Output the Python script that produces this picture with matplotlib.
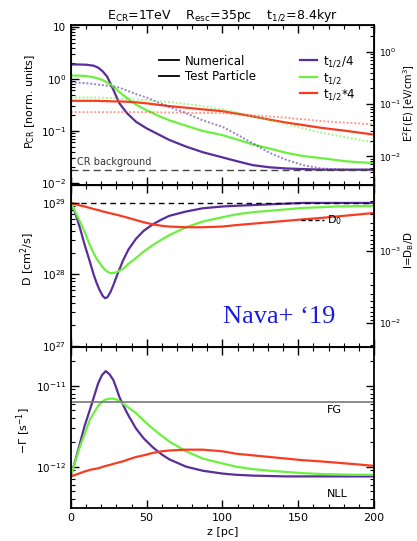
import numpy as np
import matplotlib
matplotlib.use("Agg")
import matplotlib.pyplot as plt
from matplotlib.lines import Line2D
from matplotlib.ticker import MultipleLocator, LogLocator, NullFormatter

plt.rcParams['font.family'] = ['DejaVu Sans']
plt.rcParams['mathtext.default'] = 'regular'

# ---- panel 1: CR density, numerical (solid) and test particle (dotted)
z1 = [0, 5, 10, 15, 18, 21, 24, 28, 32, 37, 43, 50, 57, 65, 76, 87, 100,
      110, 120, 131, 142, 153, 165, 182, 200]
p_quarter = [1.9, 1.9, 1.88, 1.8, 1.65, 1.4, 1.1, 0.62, 0.34, 0.22, 0.15, 0.112,
             0.088, 0.067, 0.05, 0.039, 0.031, 0.026, 0.022, 0.020, 0.019,
             0.0185, 0.018, 0.018, 0.018]
p_half = [1.16, 1.16, 1.14, 1.08, 1.02, 0.95, 0.85, 0.71, 0.56, 0.43, 0.32, 0.25,
          0.2, 0.16, 0.126, 0.1, 0.083, 0.068, 0.055, 0.046, 0.038, 0.033,
          0.03, 0.026, 0.024]
p_four = [0.38, 0.38, 0.38, 0.38, 0.38, 0.375, 0.375, 0.37, 0.37, 0.365, 0.355,
          0.34, 0.32, 0.3, 0.28, 0.26, 0.24, 0.215, 0.19, 0.165, 0.145, 0.13,
          0.115, 0.1, 0.085]
tp_quarter = [0.86, 0.85, 0.83, 0.8, 0.78, 0.76, 0.74, 0.72, 0.68, 0.6, 0.51,
              0.44, 0.36, 0.29, 0.22, 0.16, 0.12, 0.084, 0.058, 0.038, 0.028,
              0.022, 0.019, 0.018, 0.018]
tp_half = [0.44, 0.44, 0.44, 0.44, 0.44, 0.435, 0.43, 0.43, 0.42, 0.41, 0.4,
           0.39, 0.37, 0.36, 0.33, 0.3, 0.26, 0.225, 0.19, 0.16, 0.135, 0.113,
           0.093, 0.075, 0.06]
tp_four = [0.23, 0.23, 0.23, 0.23, 0.23, 0.23, 0.23, 0.23, 0.23, 0.23, 0.23,
           0.23, 0.228, 0.226, 0.224, 0.222, 0.22, 0.21, 0.2, 0.19, 0.18,
           0.168, 0.155, 0.144, 0.134]
cr_background = 0.018

# ---- panel 2: diffusion coefficient, log10(D)
z2 = [0, 3, 6, 9, 12.5, 15, 17, 19, 21, 22.5, 24, 26, 28, 31, 34.5, 38, 43, 48,
      54, 60, 65, 76, 87, 100, 109, 120, 131, 142, 153, 165, 175, 188, 200]
logD_quarter = [29.0, 28.85, 28.65, 28.42, 28.18, 28.0, 27.88, 27.78, 27.7,
                27.67, 27.68, 27.75, 27.85, 28.02, 28.2, 28.35, 28.5, 28.61,
                28.7, 28.77, 28.82, 28.88, 28.925, 28.95, 28.96, 28.97, 28.98,
                28.99, 29.0, 29.0, 29.0, 29.0, 29.0]
logD_half = [29.0, 28.87, 28.74, 28.6, 28.41, 28.3, 28.22, 28.16, 28.1, 28.07,
             28.04, 28.02, 28.02, 28.04, 28.08, 28.15, 28.23, 28.32, 28.41, 28.49,
             28.55, 28.66, 28.74, 28.8, 28.84, 28.87, 28.89, 28.91, 28.93,
             28.94, 28.95, 28.955, 28.96]
logD_four = [29.0, 28.98, 28.965, 28.95, 28.93, 28.915, 28.905, 28.895, 28.88,
             28.875, 28.865, 28.855, 28.845, 28.83, 28.81, 28.79, 28.76, 28.73,
             28.7, 28.68, 28.67, 28.66, 28.66, 28.67, 28.69, 28.71, 28.73,
             28.75, 28.77, 28.79, 28.81, 28.835, 28.86]
D0 = 1e29

# ---- panel 3: damping rate, log10(-Gamma)
z3 = [0, 3, 6, 9, 12.5, 15, 18, 20.5, 23, 25.5, 28, 30, 32, 35, 38, 43, 48, 54,
      60, 65, 76, 87, 100, 109, 120, 131, 142, 153, 165, 175, 188, 200]
logG_quarter = [-12.11, -11.92, -11.71, -11.5, -11.3, -11.15, -10.97, -10.87,
                -10.82, -10.86, -10.93, -11.03, -11.14, -11.26, -11.37, -11.53,
                -11.65, -11.76, -11.85, -11.91, -12.0, -12.05, -12.085, -12.1,
                -12.11, -12.115, -12.12, -12.12, -12.12, -12.12, -12.12, -12.12]
logG_half = [-12.11, -11.93, -11.75, -11.6, -11.42, -11.34, -11.25, -11.2,
             -11.17, -11.16, -11.16, -11.17, -11.19, -11.23, -11.27, -11.34,
             -11.43, -11.53, -11.62, -11.69, -11.81, -11.9, -11.96, -12.0,
             -12.03, -12.05, -12.065, -12.08, -12.09, -12.095, -12.1, -12.1]
logG_four = [-12.12, -12.1, -12.08, -12.06, -12.04, -12.03, -12.02, -12.005,
             -11.99, -11.98, -11.965, -11.955, -11.945, -11.93, -11.91, -11.88,
             -11.86, -11.83, -11.81, -11.8, -11.79, -11.79, -11.81, -11.84,
             -11.86, -11.88, -11.9, -11.92, -11.935, -11.95, -11.97, -11.99]
FG_rate = 6.2e-12

c_purple = '#5a2d9c'
c_green = '#6cf040'
c_red = '#f83c22'
series_labels = ['$t_{1/2}$/4', '$t_{1/2}$', '$t_{1/2}$*4']

fig = plt.figure(figsize=(4.17, 5.41), dpi=100)
L, W = 0.170, 0.727
ax1 = fig.add_axes([L, 0.658, W, 0.296])
ax2 = fig.add_axes([L, 0.359, W, 0.299])
ax3 = fig.add_axes([L, 0.061, W, 0.298])

tick_kw = dict(direction='in', labelsize=7.5, width=1.0)
for ax in (ax1, ax2, ax3):
    ax.set_xlim(0, 200)
    ax.set_yscale('log')
    ax.xaxis.set_major_locator(MultipleLocator(50))
    ax.xaxis.set_minor_locator(MultipleLocator(10))
    ax.tick_params(which='major', length=6, top=True, **tick_kw)
    ax.tick_params(which='minor', length=3, top=True, direction='in', width=0.8)
    for s in ax.spines.values():
        s.set_linewidth(1.3)
ax1.tick_params(labelbottom=False)
ax2.tick_params(labelbottom=False)

# panel 1
lw = 1.6
ax1.plot(z1, p_quarter, color=c_purple, lw=lw)
ax1.plot(z1, p_half, color=c_green, lw=lw)
ax1.plot(z1, p_four, color=c_red, lw=lw)
dot = (0, (1, 1))
ax1.plot(z1, tp_quarter, color=c_purple, lw=1.4, ls=dot, alpha=0.6)
ax1.plot(z1, tp_half, color=c_green, lw=1.4, ls=dot, alpha=0.6)
ax1.plot(z1, tp_four, color=c_red, lw=1.4, ls=dot, alpha=0.5)
ax1.axhline(cr_background, color='#444444', lw=1.0, ls=(0, (5, 3)))
ax1.text(0.02, 0.125, 'CR background', transform=ax1.transAxes, fontsize=7,
         color='#333333')
ax1.set_ylim(10**-2.04, 10**1.04)
ax1.set_yticks([1e-2, 1e-1, 1, 10])
ax1.set_yticklabels(['$10^{-2}$', '$10^{-1}$', '$10^{0}$', '10'])
ax1.yaxis.set_minor_locator(LogLocator(base=10, subs=np.arange(2, 10)))
ax1.yaxis.set_minor_formatter(NullFormatter())
ax1.set_ylabel('$P_{CR}$ [norm. units]', fontsize=8)
ax1.yaxis.set_label_coords(-0.112, 0.52)
ax1.set_title('$E_{CR}$=1TeV    $R_{esc}$=35pc    $t_{1/2}$=8.4kyr',
              fontsize=9, pad=4)

leg1 = ax1.legend([Line2D([], [], color='k', lw=1.3)] * 2,
                  ['Numerical', 'Test Particle'], loc='upper left',
                  bbox_to_anchor=(0.29, 0.815), frameon=False, fontsize=8.5,
                  handlelength=1.7, handletextpad=0.5, labelspacing=0.2,
                  borderpad=0, borderaxespad=0)
ax1.add_artist(leg1)
ax1.legend([Line2D([], [], color=c, lw=1.6) for c in (c_purple, c_green, c_red)],
           series_labels, loc='upper left', bbox_to_anchor=(0.755, 0.815),
           frameon=False, fontsize=8.5, handlelength=1.5, handletextpad=0.5,
           labelspacing=0.15, borderpad=0, borderaxespad=0)

r1 = ax1.twinx()
r1.set_yscale('log')
r1.set_ylim(10**-2.55, 10**0.52)
r1.tick_params(which='major', length=6, direction='in', width=1.0, labelsize=6.5)
r1.tick_params(which='minor', length=3, direction='in', width=0.8)
r1.set_ylabel('$E^2F(E)$ [eV/cm$^3$]', fontsize=7)
r1.yaxis.set_label_coords(1.09, 0.51)

# panel 2
ax2.plot(z2, 10**np.array(logD_quarter), color=c_purple, lw=lw)
ax2.plot(z2, 10**np.array(logD_half), color=c_green, lw=lw)
ax2.plot(z2, 10**np.array(logD_four), color=c_red, lw=lw)
ax2.axhline(D0, color='k', lw=1.0, ls=(0, (4, 3)))
ax2.plot([0.76, 0.835], [0.784, 0.784], transform=ax2.transAxes, color='k',
         lw=1.0, ls=(0, (3, 2)))
ax2.text(0.845, 0.784, '$D_0$', transform=ax2.transAxes, fontsize=8,
         va='center')
ax2.text(0.502, 0.148, 'Nava+ \u201819', transform=ax2.transAxes,
         family='Liberation Serif', fontsize=19, color='#1c1ce0', va='baseline')
ax2.set_ylim(10**26.99, 10**29.25)
ax2.set_ylabel('D [cm$^2$/s]', fontsize=8)
ax2.yaxis.set_label_coords(-0.112, 0.54)

r2 = ax2.twinx()
r2.set_yscale('log')
r2.set_ylim(10**-1.67, 10**-3.92)
r2.tick_params(which='major', length=6, direction='in', width=1.0, labelsize=6.5)
r2.tick_params(which='minor', length=3, direction='in', width=0.8)
r2.set_ylabel('I=$D_B$/D', fontsize=7.5)
r2.yaxis.set_label_coords(1.092, 0.6)

# panel 3
ax3.plot(z3, 10**np.array(logG_quarter), color=c_purple, lw=lw)
ax3.plot(z3, 10**np.array(logG_half), color=c_green, lw=lw)
ax3.plot(z3, 10**np.array(logG_four), color=c_red, lw=lw)
ax3.axhline(FG_rate, color='#777777', lw=1.2)
ax3.text(0.845, 0.61, 'FG', transform=ax3.transAxes, fontsize=8, va='center')
ax3.text(0.845, 0.087, 'NLL', transform=ax3.transAxes, fontsize=8, va='center')
ax3.set_ylim(10**-12.51, 10**-10.52)
ax3.tick_params(which='both', right=True)
ax3.set_ylabel(r'$-\Gamma$ [s$^{-1}$]', fontsize=8)
ax3.yaxis.set_label_coords(-0.125, 0.48)
ax3.set_xlabel('z [pc]', fontsize=8, labelpad=3)
ax3.tick_params(axis='x', labelsize=8)

fig.savefig('out.png', dpi=100)
